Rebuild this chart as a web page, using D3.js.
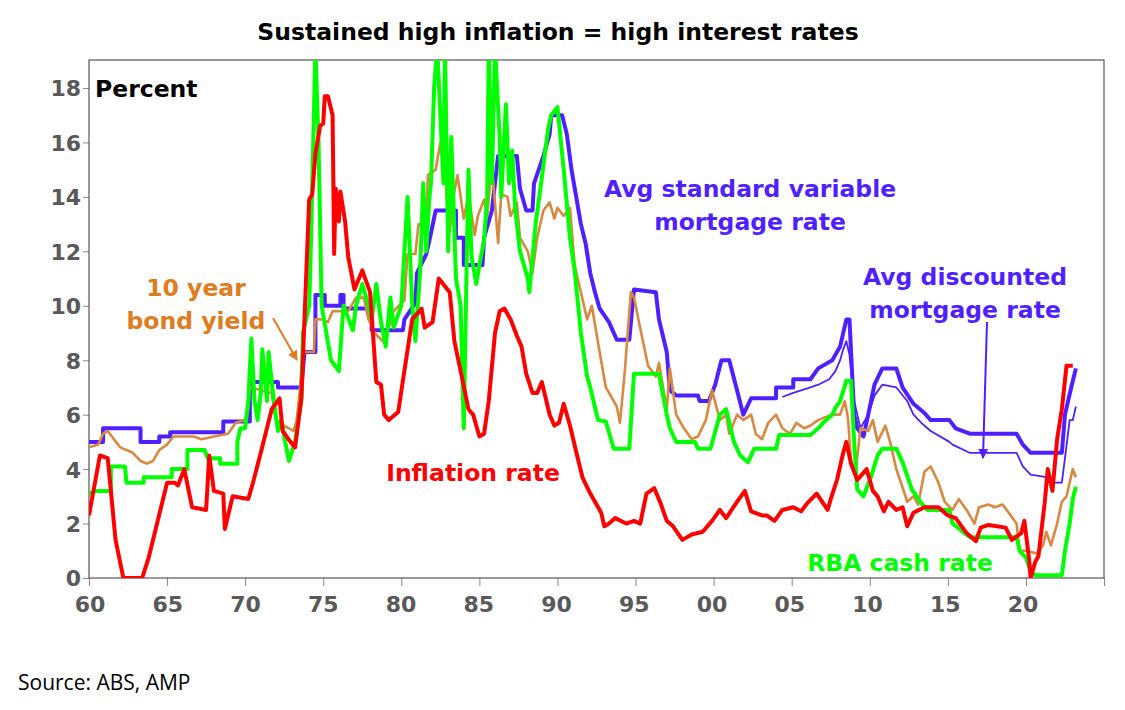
<!DOCTYPE html>
<html><head><meta charset="utf-8">
<script src="https://cdn.jsdelivr.net/npm/d3@7/dist/d3.min.js"></script>
<style>body{margin:0;background:#fff}svg{font-family:"DejaVu Sans",Verdana,sans-serif}</style>
</head><body><svg id="c" width="1125" height="710"></svg>
<script>
const yTicks=[0,2,4,6,8,10,12,14,16,18];
const xTickYears=[1960,1965,1970,1975,1980,1985,1990,1995,2000,2005,2010,2015,2020,2025];
const xTickLabels=["60","65","70","75","80","85","90","95","00","05","10","15","20"];
const inflation=[[1960,2.3],[1960.7,4.5],[1961.2,4.4],[1961.7,1.4],[1962.2,0],[1963.4,0],[1963.8,0.7],[1965,3.5],[1965.5,3.5],[1965.7,3.4],[1966.1,4.0],[1966.6,2.6],[1967.5,2.5],[1967.7,4.5],[1968,3.2],[1968.6,3.1],[1968.7,1.8],[1969.2,3.0],[1970.2,2.9],[1970.5,3.5],[1971,4.6],[1971.7,6.2],[1972.2,6.6],[1972.4,5.4],[1972.9,5.0],[1973.2,4.8],[1973.6,6.6],[1974.1,13.9],[1974.3,14.1],[1974.5,15.6],[1974.8,16.6],[1975,16.7],[1975.1,17.7],[1975.3,17.7],[1975.6,17.0],[1975.7,11.9],[1975.8,14.3],[1976,13.1],[1976.1,14.2],[1976.4,13.1],[1976.6,11.8],[1977,10.6],[1977.5,11.3],[1978,10.5],[1978.4,7.2],[1978.7,7.1],[1978.9,6.0],[1979.2,5.8],[1979.8,6.1],[1980.3,8.0],[1980.7,9.5],[1981.3,9.9],[1981.5,9.2],[1982,9.4],[1982.4,11.0],[1983.1,10.5],[1983.4,8.7],[1983.8,7.6],[1984.3,6.2],[1984.6,6.0],[1985,5.2],[1985.3,5.3],[1985.6,6.5],[1986,9.0],[1986.3,9.8],[1986.6,9.9],[1987,9.5],[1987.4,8.9],[1987.7,8.5],[1988,7.5],[1988.4,6.8],[1988.7,6.8],[1989,7.2],[1989.5,6.0],[1989.8,5.6],[1990.1,5.7],[1990.4,6.4],[1990.8,5.6],[1991.3,4.4],[1991.6,3.7],[1992.1,3.1],[1992.8,2.4],[1993,1.9],[1993.3,2.0],[1993.7,2.2],[1994.4,2.0],[1994.9,2.1],[1995.3,2.0],[1995.7,3.1],[1996.2,3.3],[1996.6,2.75],[1997,2.1],[1997.4,1.9],[1998,1.4],[1998.6,1.6],[1999.3,1.7],[1999.9,2.1],[2000.4,2.5],[2000.8,2.2],[2001.5,2.8],[2002,3.2],[2002.4,2.45],[2003.1,2.3],[2003.4,2.3],[2003.9,2.1],[2004.4,2.5],[2005.1,2.6],[2005.6,2.45],[2006,2.75],[2006.6,3.1],[2007.3,2.5],[2007.5,2.9],[2007.9,3.6],[2008.3,4.6],[2008.5,5.0],[2008.8,4.2],[2009.2,3.6],[2009.8,4.0],[2010.2,3.2],[2010.5,3.0],[2010.9,2.45],[2011.2,2.8],[2011.7,2.5],[2012.1,2.6],[2012.4,1.9],[2012.8,2.4],[2013.5,2.6],[2014.4,2.6],[2015,2.3],[2015.5,2.2],[2016.2,1.65],[2016.8,1.35],[2017.1,1.85],[2017.6,1.95],[2018.7,1.85],[2019.1,1.4],[2019.7,1.65],[2019.9,2.1],[2020.2,0.7],[2020.3,0],[2020.6,0.6],[2020.8,0.8],[2021.2,2.75],[2021.4,4.0],[2021.7,3.2],[2022,5.1],[2022.3,6.2],[2022.6,7.8],[2023,7.8]];
const stdVariable=[[1960,5.0],[1960.9,5.0],[1960.9,5.5],[1963.3,5.5],[1963.3,5.0],[1964.5,5.0],[1964.5,5.2],[1965.2,5.2],[1965.2,5.35],[1968.6,5.35],[1968.6,5.75],[1970.3,5.75],[1970.3,7.2],[1972.1,7.2],[1972.1,7.0],[1973.6,7.0],[1973.8,8.3],[1974.5,8.3],[1974.5,10.4],[1975.1,10.4],[1975.1,10.0],[1976.1,10.0],[1976.1,10.4],[1976.3,10.4],[1976.3,9.9],[1978.1,9.9],[1978.1,9.1],[1980.1,9.1],[1980.2,9.5],[1980.9,10.1],[1981,11.2],[1981.6,11.9],[1981.8,12.4],[1982.2,13.5],[1983.5,13.5],[1983.5,12.5],[1984,12.5],[1984,11.5],[1985.2,11.5],[1985.3,12.5],[1985.8,13.5],[1986.2,15.5],[1987.4,15.5],[1987.6,14.3],[1988,13.5],[1988.4,13.5],[1988.5,14.5],[1988.8,15.0],[1989.1,15.5],[1989.5,16.3],[1989.6,17.0],[1990.3,17.0],[1990.6,16.3],[1990.9,15.0],[1991.2,14.0],[1991.5,13.0],[1991.8,12.3],[1992.1,11.2],[1992.4,10.5],[1992.7,9.9],[1993.3,9.4],[1993.8,8.75],[1994.6,8.75],[1994.9,10.6],[1996.3,10.5],[1996.5,9.5],[1997,8.3],[1997.2,6.9],[1997.6,6.7],[1999,6.7],[1999.1,6.5],[1999.7,6.5],[2000.1,7.1],[2000.5,8.0],[2001,8.0],[2001.5,6.9],[2001.9,6.0],[2002.4,6.6],[2004,6.6],[2004,7.0],[2005.1,7.0],[2005.1,7.3],[2006.2,7.3],[2006.7,7.7],[2007.6,8.0],[2008.1,8.5],[2008.5,9.5],[2008.7,9.5],[2009,6.0],[2009.2,5.5],[2009.6,5.2],[2009.9,6.0],[2010.3,7.1],[2010.8,7.7],[2011.7,7.7],[2012.1,7.0],[2012.8,6.4],[2013.5,6.06],[2013.9,5.8],[2015.1,5.8],[2015.5,5.5],[2016.4,5.3],[2019.4,5.3],[2019.8,4.9],[2020.3,4.6],[2022.3,4.6],[2022.5,6.0],[2022.9,7.0],[2023.2,7.7]];
const discounted=[[2004.4,6.65],[2005.1,6.8],[2006.2,7.0],[2006.7,7.1],[2007.4,7.3],[2007.8,7.6],[2008.1,8.0],[2008.3,8.4],[2008.5,8.7],[2008.7,8.2],[2009,6.5],[2009.4,5.5],[2009.9,6.0],[2010.3,6.7],[2010.8,7.1],[2011.7,7.0],[2012.4,6.5],[2012.8,6.0],[2013.3,5.7],[2013.9,5.4],[2015.1,5.0],[2015.3,4.9],[2016.4,4.6],[2019.4,4.6],[2019.8,4.1],[2020.3,3.8],[2021.4,3.7],[2021.6,3.5],[2022.3,3.5],[2022.5,4.4],[2022.8,5.8],[2023,5.8],[2023.2,6.3]];
const cashRate=[[1960,3.1],[1960.5,3.2],[1961.4,3.2],[1961.4,4.1],[1962.3,4.1],[1962.4,3.5],[1963.5,3.5],[1963.5,3.7],[1965.3,3.7],[1965.3,4.0],[1966.3,4.0],[1966.3,4.7],[1967.4,4.7],[1967.6,4.4],[1968.4,4.4],[1968.4,4.2],[1969.5,4.2],[1969.5,5.0],[1969.7,5.5],[1970,5.5],[1970.2,6.5],[1970.4,8.8],[1970.6,6.5],[1970.8,5.8],[1971,6.8],[1971.1,8.4],[1971.4,6.5],[1971.5,8.3],[1971.8,6.7],[1972.1,5.4],[1972.3,5.8],[1972.8,4.3],[1973.2,5.0],[1973.6,6.5],[1973.7,9.0],[1974.1,10.0],[1974.2,12.0],[1974.5,19.5],[1974.7,16.0],[1974.9,10.0],[1975.5,8.0],[1976,7.6],[1976.3,10.0],[1976.9,9.1],[1977.1,10.0],[1977.5,10.8],[1977.9,10.0],[1978.1,9.5],[1978.4,10.8],[1978.7,9.4],[1979,8.5],[1979.3,10.3],[1979.5,9.2],[1980,10.0],[1980.2,12.0],[1980.4,14.0],[1980.7,10.0],[1980.9,8.7],[1981.2,11.2],[1981.4,14.5],[1981.6,12.0],[1981.8,14.0],[1981.9,14.5],[1982.1,18.0],[1982.3,19.5],[1982.7,14.5],[1982.8,19.5],[1983,12.0],[1983.2,16.2],[1983.5,11.0],[1983.8,10.0],[1984,5.5],[1984.2,12.0],[1984.3,15.0],[1984.5,11.8],[1984.8,10.8],[1985,11.5],[1985.3,12.4],[1985.5,14.0],[1985.6,19.5],[1985.8,14.5],[1986,19.5],[1986.3,16.2],[1986.4,14.0],[1986.7,17.4],[1986.9,14.5],[1987.1,15.7],[1987.3,13.5],[1987.6,12.0],[1988.1,11.0],[1988.2,10.5],[1988.6,13.0],[1989,14.7],[1989.4,16.5],[1989.6,17.0],[1990,17.3],[1990.4,15.0],[1990.8,12.5],[1991.1,11.3],[1991.5,9.0],[1991.9,7.4],[1992.1,7.0],[1992.6,5.8],[1993.1,5.75],[1993.6,4.75],[1994.6,4.75],[1994.9,7.5],[1996.5,7.5],[1997,6.0],[1997.2,5.5],[1997.6,5.0],[1998.8,5.0],[1999,4.75],[1999.8,4.75],[2000.4,6.0],[2000.8,6.2],[2001.3,5.0],[2001.7,4.5],[2002.2,4.25],[2002.6,4.75],[2004,4.75],[2004.2,5.25],[2006.2,5.25],[2006.7,5.5],[2007.1,5.75],[2007.6,6.0],[2007.8,6.25],[2008.1,6.5],[2008.5,7.25],[2008.8,7.25],[2009,5.0],[2009.2,3.25],[2009.6,3.0],[2010.1,3.75],[2010.5,4.5],[2010.8,4.75],[2011.7,4.75],[2012.1,4.25],[2012.4,3.75],[2012.7,3.25],[2013.3,2.75],[2013.7,2.5],[2015.1,2.5],[2015.3,2.0],[2016.4,1.5],[2019.4,1.5],[2019.6,1.0],[2020,0.75],[2020.3,0.25],[2020.6,0.1],[2022.3,0.1],[2022.5,1.0],[2022.8,2.0],[2023,2.9],[2023.2,3.35]];
const bondYield=[[1960,4.8],[1960.6,4.9],[1960.9,5.3],[1961.2,5.4],[1961.6,5.1],[1962,4.8],[1962.8,4.6],[1963.3,4.3],[1963.7,4.2],[1964.1,4.3],[1964.5,4.7],[1965,4.9],[1965.4,5.2],[1966.7,5.2],[1967.2,5.1],[1968,5.2],[1968.9,5.3],[1969.4,5.7],[1970,5.8],[1970.2,6.2],[1970.3,7.0],[1970.4,7.0],[1971,6.9],[1971.7,6.8],[1971.9,6.0],[1972.1,5.5],[1972.5,5.6],[1973.1,5.4],[1973.3,5.8],[1973.5,6.9],[1973.7,8.3],[1974.4,8.3],[1974.5,9.5],[1974.9,9.5],[1975.3,9.4],[1975.6,9.8],[1976.6,9.8],[1977.1,10.3],[1977.6,10.3],[1977.9,9.5],[1978.3,9.0],[1978.8,8.7],[1979.1,9.0],[1979.5,9.8],[1980.2,10.2],[1980.4,11.9],[1980.9,11.9],[1981.1,13.0],[1981.6,13.0],[1981.7,14.8],[1982.2,15.0],[1982.5,16.0],[1982.7,16.0],[1982.9,14.0],[1983.1,12.7],[1983.4,14.2],[1983.6,14.8],[1984,13.2],[1984.3,14.1],[1984.7,12.6],[1984.9,13.3],[1985.3,13.9],[1985.5,13.3],[1985.8,15.2],[1986.2,12.3],[1986.4,14.1],[1986.8,14.0],[1987,13.3],[1987.4,13.8],[1987.6,12.5],[1988.1,12.0],[1988.4,11.2],[1988.7,12.5],[1989.1,13.5],[1989.5,13.8],[1989.8,13.2],[1990,13.6],[1990.4,13.3],[1990.8,13.6],[1991.1,11.5],[1991.5,10.5],[1991.7,10.0],[1991.9,9.5],[1992.2,10.0],[1992.7,8.3],[1993.1,7.0],[1993.3,6.8],[1993.8,6.3],[1994,5.7],[1994.3,7.5],[1994.7,10.5],[1994.9,10.3],[1995.4,8.9],[1995.8,7.8],[1996.3,7.4],[1996.5,7.9],[1997,6.2],[1997.2,7.7],[1997.6,6.0],[1998.1,5.5],[1998.6,5.1],[1999,5.2],[1999.5,5.8],[1999.9,6.9],[2000.4,5.8],[2000.8,6.0],[2001,5.3],[2001.5,6.0],[2001.9,5.8],[2002.4,6.0],[2002.7,5.3],[2003.1,5.1],[2003.5,5.7],[2004,6.0],[2004.4,5.5],[2004.9,5.3],[2005.3,5.7],[2005.8,5.5],[2006.2,5.6],[2006.7,5.8],[2007.1,5.9],[2007.6,6.0],[2008.1,6.0],[2008.4,6.5],[2008.6,5.9],[2008.8,4.3],[2009.1,3.9],[2009.4,5.5],[2009.9,5.4],[2010.2,5.8],[2010.5,5.0],[2011,5.6],[2011.3,5.0],[2011.7,4.0],[2012,3.5],[2012.4,2.8],[2012.8,3.0],[2013.1,2.7],[2013.5,3.9],[2013.9,4.1],[2014.4,3.5],[2014.8,2.8],[2015.3,2.5],[2015.7,2.9],[2016.2,2.5],[2016.7,2.0],[2017,2.6],[2017.6,2.7],[2018,2.6],[2018.5,2.7],[2018.9,2.4],[2019.4,2.0],[2019.6,1.0],[2020,1.0],[2020.7,0.9],[2021.1,1.2],[2021.3,1.7],[2021.6,1.2],[2022,2.0],[2022.3,2.8],[2022.6,3.0],[2023,4.0],[2023.2,3.7]];

const svg=d3.select("#c");
const L=89,R=1104,T=60,B=578;
const x=d3.scaleLinear().domain([1960,2025]).range([L,R]);
const xl=d3.scaleLinear().domain([1960,2020]).range([90,1023]);
const y=d3.scaleLinear().domain([0,18]).range([B,88]);
const maxY=y.invert(T);

svg.append("defs").append("clipPath").attr("id","clip").append("rect").attr("x",L).attr("y",T).attr("width",R-L).attr("height",B-T);
svg.append("text").attr("x",558).attr("y",40).attr("text-anchor","middle").attr("font-size",23.5).attr("font-weight","bold").text("Sustained high inflation = high interest rates");

const gy=svg.append("g").attr("transform",`translate(${L},0)`).call(d3.axisLeft(y).tickValues(yTicks).tickSize(6).tickFormat(d3.format("d")));
gy.select(".domain").remove();
gy.selectAll("line").attr("stroke","#888");
gy.selectAll("text").attr("font-size",22).attr("font-weight","bold").attr("fill","#595959").attr("font-family","DejaVu Sans, Verdana").attr("x",-8).attr("dy","0.36em");
const gx=svg.append("g").attr("transform",`translate(0,${B})`).call(d3.axisBottom(x).tickValues(xTickYears).tickSize(8).tickFormat(""));
gx.select(".domain").remove();
gx.selectAll("line").attr("stroke","#888");
svg.append("g").selectAll("text").data(xTickLabels).join("text").attr("x",(d,i)=>xl(xTickYears[i])).attr("y",B+34).attr("text-anchor","middle").attr("font-size",22).attr("font-weight","bold").attr("fill","#595959").text(d=>d);
svg.append("rect").attr("x",L).attr("y",T).attr("width",R-L).attr("height",B-T).attr("fill","none").attr("stroke","#555").attr("stroke-width",1.2);

const line=d3.line().x(d=>x(d[0])).y(d=>y(Math.min(d[1],maxY+1)));
const g=svg.append("g").attr("clip-path","url(#clip)");
const series=[[discounted,"#4f1fff",1.8],[stdVariable,"#4f1fff",4],[bondYield,"#d8893f",2.6],[cashRate,"#00ff00",4],[inflation,"#ff0000",4]];
series.forEach(([d,c,w])=>g.append("path").datum(d).attr("d",line).attr("fill","none").attr("stroke",c).attr("stroke-width",w).attr("stroke-linejoin","round"));

function lab(t,xx,yy,c){svg.append("text").attr("x",xx).attr("y",yy).attr("text-anchor","middle").attr("font-size",23.5).attr("font-weight","bold").attr("fill",c).text(t);}
svg.append("text").attr("x",95).attr("y",97).attr("font-size",23.5).attr("font-weight","bold").text("Percent");
lab("10 year",196,296,"#e07b20");lab("bond yield",196,329,"#e07b20");
lab("Avg standard variable",750,197,"#4f1fff");lab("mortgage rate",750,230,"#4f1fff");
lab("Avg discounted",965,285,"#4f1fff");lab("mortgage rate",965,318,"#4f1fff");
lab("Inflation rate",473,481,"#ff0000");lab("RBA cash rate",900,571,"#00ff00");
svg.append("defs").html('<marker id="ao" viewBox="0 0 10 10" refX="9" refY="5" markerWidth="5" markerHeight="5" orient="auto"><path d="M0,0L10,5L0,10z" fill="#e07b20"/></marker><marker id="ab" viewBox="0 0 10 10" refX="9" refY="5" markerWidth="5" markerHeight="5" orient="auto"><path d="M0,0L10,5L0,10z" fill="#4f1fff"/></marker>');
svg.append("line").attr("x1",273).attr("y1",318).attr("x2",297).attr("y2",360).attr("stroke","#e07b20").attr("stroke-width",2).attr("marker-end","url(#ao)");
svg.append("line").attr("x1",987).attr("y1",322).attr("x2",983).attr("y2",458).attr("stroke","#4f1fff").attr("stroke-width",2).attr("marker-end","url(#ab)");
svg.append("text").attr("x",18).attr("y",690).attr("font-size",21).attr("font-family","Open Sans, sans-serif").text("Source: ABS, AMP");
</script></body></html>
